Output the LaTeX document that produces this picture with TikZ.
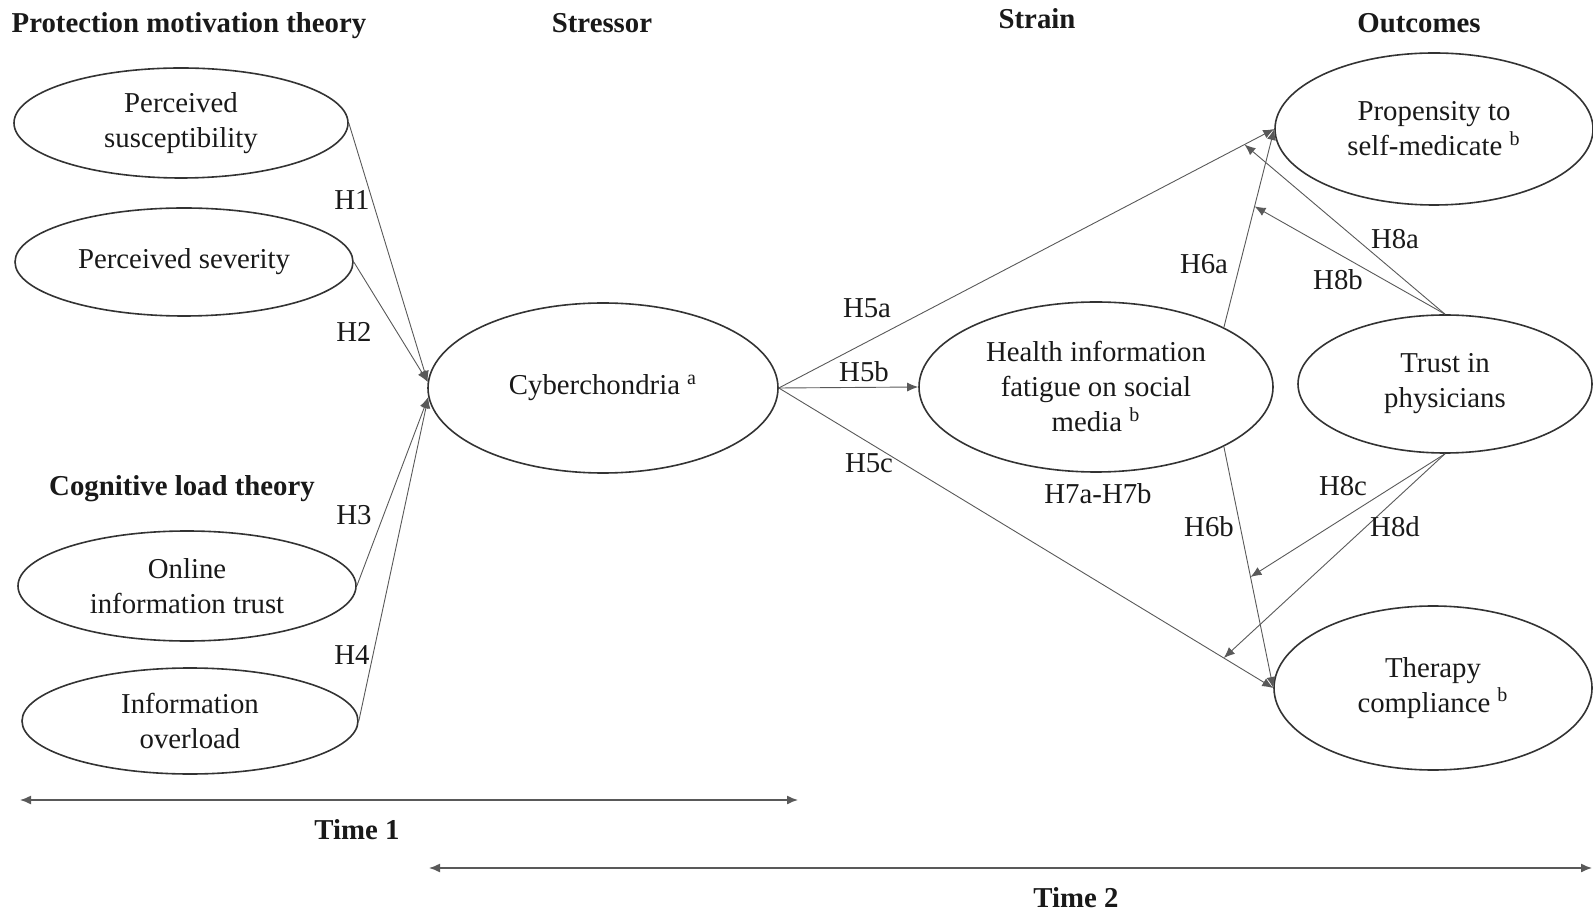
\documentclass[tikz,border=0pt]{standalone}
\usepackage{fontspec}
\setmainfont{Liberation Serif}
\usetikzlibrary{shapes.geometric,arrows.meta}
\begin{document}
\begin{tikzpicture}[x=0.5pt,y=-0.5pt,
 oval/.style={ellipse,draw=black!80,line width=0.8pt,inner sep=0pt,align=center,text=black!90,font=\fontsize{14.4}{17.5}\selectfont},
 lbl/.style={font=\fontsize{14.4}{17}\selectfont,inner sep=0pt,text=black!90},
 hdr/.style={font=\fontsize{14.4}{17}\selectfont\bfseries,inner sep=0pt,text=black!90},
 conn/.style={draw=black!65,line width=0.45pt,-{Latex[length=5.5pt,width=4.5pt]}},
 timeline/.style={draw=black!65,line width=0.7pt,{Latex[length=5.5pt,width=4.5pt]}-{Latex[length=5.5pt,width=4.5pt]}},
]
\useasboundingbox (0,0) rectangle (1593,913);

% headers
\node[hdr,anchor=base] (hpmt) at (189,33) {Protection motivation theory};
\node[hdr,anchor=base] (hstr) at (602,33) {Stressor};
\node[hdr,anchor=base] (hstn) at (1037,29) {Strain};
\node[hdr,anchor=base] (hout) at (1419,33) {Outcomes};
\node[hdr,anchor=base] (hclt) at (182,496) {Cognitive load theory};

% ellipses
\node[oval,minimum width=167pt,minimum height=55pt] (sus) at (181,123) {Perceived\\susceptibility};
\node[oval,minimum width=169pt,minimum height=54pt] (sev) at (184,262) {Perceived severity};
\node[oval,minimum width=169pt,minimum height=55pt] (oit) at (187,586) {Online\\information trust};
\node[oval,minimum width=168pt,minimum height=53pt] (ovl) at (190,721) {Information\\overload};
\node[oval,minimum width=175pt,minimum height=85pt] (cyb) at (603,388) {Cyberchondria \textsuperscript{a}};
\node[oval,minimum width=177pt,minimum height=85pt] (fat) at (1096,387) {Health information\\fatigue on social\\media \textsuperscript{b}};
\node[oval,minimum width=159pt,minimum height=76pt] (pro) at (1434,129) {Propensity to\\self-medicate \textsuperscript{b}};
\node[oval,minimum width=147pt,minimum height=69pt] (tru) at (1445,384) {Trust in\\physicians};
\node[oval,minimum width=159pt,minimum height=82pt] (the) at (1433,688) {Therapy\\compliance \textsuperscript{b}};

% antecedents -> cyberchondria
\draw[conn] (sus.east) -- (cyb.178);
\draw[conn] (sev.east) -- (cyb.178);
\draw[conn] (oit.east) -- (cyb.183);
\draw[conn] (ovl.east) -- (cyb.183);

% cyberchondria -> strain / outcomes
\draw[conn] (cyb.east) -- (pro.west) coordinate[pos=0.94] (m8a);
\draw[conn] (cyb.east) -- (fat.west);
\draw[conn] (cyb.east) -- (the.west) coordinate[pos=0.90] (m8d);

% strain -> outcomes
\draw[conn] (fat.25) -- (pro.west) coordinate[pos=0.61] (m8b);
\draw[conn] (fat.-25) -- (the.west) coordinate[pos=0.54] (m8c);

% moderation
\draw[conn] (tru.north) -- (m8a);
\draw[conn] (tru.north) -- (m8b);
\draw[conn] (tru.south) -- (m8c);
\draw[conn] (tru.south) -- (m8d);

% labels
\node[lbl] (l1) at (352,200) {H1};
\node[lbl] (l2) at (354,332) {H2};
\node[lbl] (l3) at (354,515) {H3};
\node[lbl] (l4) at (352,655) {H4};
\node[lbl] (l5a) at (867,308) {H5a};
\node[lbl] (l5b) at (864,372) {H5b};
\node[lbl] (l5c) at (869,463) {H5c};
\node[lbl] (l6a) at (1204,264) {H6a};
\node[lbl] (l6b) at (1209,527) {H6b};
\node[lbl] (l7) at (1098,494) {H7a-H7b};
\node[lbl] (l8a) at (1395,239) {H8a};
\node[lbl] (l8b) at (1338,280) {H8b};
\node[lbl] (l8c) at (1343,486) {H8c};
\node[lbl] (l8d) at (1395,527) {H8d};

% time lines
\coordinate (t1l) at (20,800);
\coordinate (t1r) at (798,800);
\coordinate (t2l) at (429,868);
\coordinate (t2r) at (1592,868);
\draw[timeline] (t1l) -- (t1r);
\draw[timeline] (t2l) -- (t2r);
\node[hdr] (tm1) at (357,830) {Time 1};
\node[hdr] (tm2) at (1076,898) {Time 2};
\end{tikzpicture}
\end{document}
